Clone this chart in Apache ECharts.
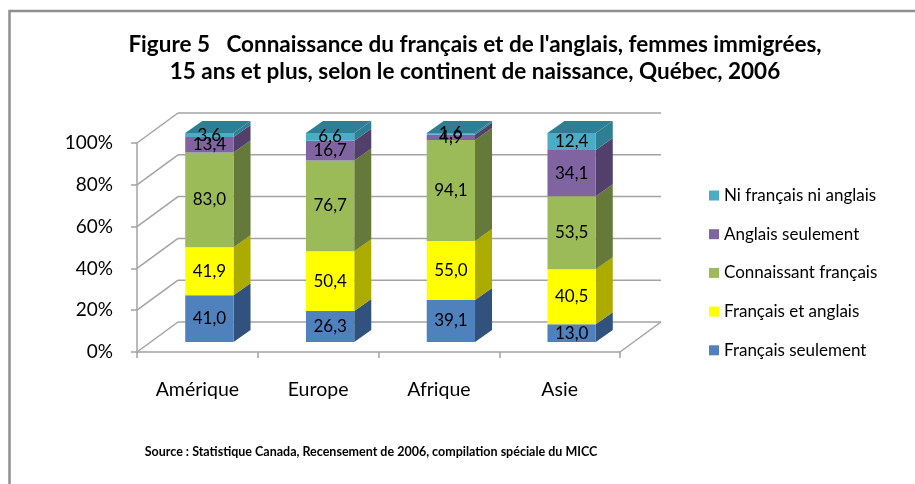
<!DOCTYPE html>
<html>
<head>
<meta charset="utf-8">
<script src="https://cdn.jsdelivr.net/npm/echarts@6/dist/echarts.min.js"></script>
<style>
  html, body { margin: 0; padding: 0; background: #fff; }
  #chart { width: 915px; height: 484px; }
</style>
</head>
<body>
<div id="chart"></div>
<script>
// continents on the x axis
const categories = ['Amérique', 'Europe', 'Afrique', 'Asie'];

// raw values printed on the bars (the chart stacks them to 100 %)
const francaisSeulement = [41.0, 26.3, 39.1, 13.0];
const francaisEtAnglais = [41.9, 50.4, 55.0, 40.5];
const connaissantFrancais = [83.0, 76.7, 94.1, 53.5];
const anglaisSeulement = [13.4, 16.7, 4.9, 34.1];
const niFrancaisNiAnglais = [3.6, 6.6, 1.6, 12.4];

const yTicks = [0, 20, 40, 60, 80, 100];

// bottom to top
const layers = [
  { name: 'Français seulement', values: francaisSeulement, color: '#4F81BD', side: '#30527C' },
  { name: 'Français et anglais', values: francaisEtAnglais, color: '#FFFF00', side: '#ABAB00' },
  { name: 'Connaissant français', values: connaissantFrancais, color: '#9BBB59', side: '#657A3A' },
  { name: 'Anglais seulement', values: anglaisSeulement, color: '#8064A2', side: '#52406B' },
  { name: 'Ni français ni anglais', values: niFrancaisNiAnglais, color: '#4BACC6', side: '#2F7F94' }
];

// 3d look: depth of the walls, shift of the bars inside it, thickness of a bar
const DEPTH = [41, -30];
const BAR_OFF = [12, -10];
const BAR_SIDE = [17, -12];
const GRID_COLOR = '#A3A3A3';
const FONT = 'Lato';

const totals = categories.map((c, i) => layers.reduce((s, l) => s + l.values[i], 0));

function fmt(v) {
  return v.toFixed(1).replace('.', ',');
}

function renderFrame(params, api) {
  const cs = params.coordSys;
  const v = api.value(1);
  const y = api.coord([0, v])[1];
  const xl = cs.x;
  const xr = cs.x + cs.width;
  const style = { stroke: GRID_COLOR, lineWidth: 1.5 };
  const children = [
    { type: 'line', shape: { x1: xl, y1: y, x2: xl + DEPTH[0], y2: y + DEPTH[1] }, style },
    { type: 'line', shape: { x1: xl + DEPTH[0], y1: y + DEPTH[1], x2: xr + DEPTH[0], y2: y + DEPTH[1] }, style }
  ];
  if (v === 0) {
    children.push({ type: 'line', shape: { x1: xr, y1: y, x2: xr + DEPTH[0], y2: y + DEPTH[1] }, style });
  }
  return { type: 'group', children };
}

function makeBarRenderer(layer, isTop) {
  return function (params, api) {
    const i = api.value(0);
    const p0 = api.coord([i, api.value(1)]);
    const p1 = api.coord([i, api.value(2)]);
    const w = api.size([1, 0])[0] * 0.4;
    const x0 = p0[0] - w / 2 + BAR_OFF[0];
    const x1 = x0 + w;
    const yb = p0[1] + BAR_OFF[1];
    const yt = p1[1] + BAR_OFF[1];
    const children = [
      {
        type: 'polygon',
        shape: { points: [[x1, yt], [x1 + BAR_SIDE[0], yt + BAR_SIDE[1]], [x1 + BAR_SIDE[0], yb + BAR_SIDE[1]], [x1, yb]] },
        style: { fill: layer.side }
      },
      {
        type: 'rect',
        shape: { x: x0, y: yt, width: w, height: yb - yt },
        style: { fill: layer.color }
      }
    ];
    if (isTop) {
      children.push({
        type: 'polygon',
        shape: { points: [[x0, yt], [x0 + BAR_SIDE[0], yt + BAR_SIDE[1]], [x1 + BAR_SIDE[0], yt + BAR_SIDE[1]], [x1, yt]] },
        style: { fill: layer.side }
      });
    }
    children.push({
      type: 'text',
      z2: 10,
      style: {
        x: (x0 + x1) / 2,
        y: (yt + yb) / 2,
        text: fmt(api.value(3)),
        align: 'center',
        verticalAlign: 'middle',
        fill: '#000',
        font: '17px ' + FONT
      }
    });
    return { type: 'group', children };
  };
}

const acc = categories.map(() => 0);
const barSeries = layers.map((layer, k) => {
  const data = categories.map((c, i) => {
    const start = acc[i];
    const end = start + layer.values[i] / totals[i] * 100;
    acc[i] = end;
    return [i, start, end, layer.values[i]];
  });
  return {
    name: layer.name,
    type: 'custom',
    silent: true,
    clip: false,
    z: 3,
    itemStyle: { color: layer.color },
    renderItem: makeBarRenderer(layer, k === layers.length - 1),
    data
  };
});

const chart = echarts.init(document.getElementById('chart'), null, { renderer: 'canvas' });

chart.setOption({
  animation: false,
  backgroundColor: '#fff',
  graphic: [
    {
      type: 'rect',
      silent: true,
      shape: { x: 9.5, y: 11, width: 930, height: 500 },
      style: { fill: null, stroke: '#8F8F8F', lineWidth: 2.5 }
    },
    {
      type: 'text',
      silent: true,
      x: 475,
      y: 58.5,
      style: {
        text: "Figure 5   Connaissance du français et de l'anglais, femmes immigrées,\n15 ans et plus, selon le continent de naissance, Québec, 2006",
        align: 'center',
        verticalAlign: 'middle',
        lineHeight: 27,
        fill: '#000',
        font: 'bold 22.5px ' + FONT
      }
    },
    {
      type: 'text',
      silent: true,
      x: 371,
      y: 452,
      style: {
        text: 'Source : Statistique Canada, Recensement de 2006, compilation spéciale du MICC',
        align: 'center',
        verticalAlign: 'middle',
        fill: '#000',
        font: 'bold 12.5px ' + FONT
      }
    }
  ],
  legend: {
    orient: 'vertical',
    left: 709,
    top: 187,
    padding: 0,
    itemWidth: 10,
    itemHeight: 10,
    itemGap: 21.7,
    icon: 'rect',
    selectedMode: false,
    data: layers.map(l => l.name).reverse(),
    textStyle: { fontFamily: FONT, fontSize: 17, lineHeight: 16, color: '#000' }
  },
  grid: { left: 137, top: 143, width: 483, height: 209 },
  xAxis: {
    type: 'category',
    data: categories,
    axisLine: { show: true, lineStyle: { color: GRID_COLOR, width: 1.5 } },
    axisTick: { show: true, length: 6, interval: 0, lineStyle: { color: GRID_COLOR, width: 1.5 } },
    axisLabel: { margin: 28, fontFamily: FONT, fontSize: 19.5, color: '#000' },
    splitLine: { show: false }
  },
  yAxis: {
    type: 'value',
    min: 0,
    max: 100,
    interval: 20,
    axisLine: { show: true, lineStyle: { color: GRID_COLOR, width: 1.5 } },
    axisTick: { show: true, length: 6, lineStyle: { color: GRID_COLOR, width: 1.5 } },
    axisLabel: { margin: 24, formatter: '{value}%', fontFamily: FONT, fontSize: 19, color: '#000' },
    splitLine: { show: false }
  },
  series: [
    {
      name: 'cadre',
      type: 'custom',
      silent: true,
      clip: false,
      z: 1,
      renderItem: renderFrame,
      data: yTicks.map(v => [0, v])
    }
  ].concat(barSeries)
});
</script>
</body>
</html>
